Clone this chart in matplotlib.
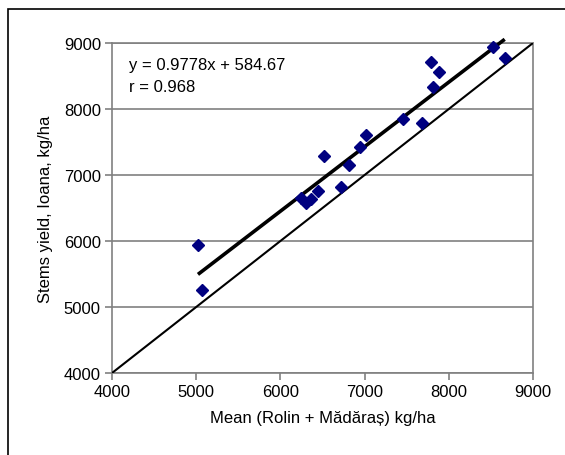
import numpy as np
import matplotlib
matplotlib.use('Agg')
import matplotlib.pyplot as plt
from matplotlib.patches import Rectangle

plt.rcParams['font.family'] = ['Liberation Sans', 'DejaVu Sans']

# mean yield (Rolin + Madaras) vs Ioana, kg/ha
mean_rm = [5021, 5073, 6245, 6305, 6365, 6443, 6514, 6720, 6815,
           6949, 7013, 7460, 7686, 7785, 7887, 7816, 8529, 8664]
ioana = [5934, 5263, 6650, 6575, 6630, 6753, 7290, 6812, 7155,
         7420, 7600, 7845, 7786, 8718, 8565, 8326, 8942, 8766]

slope = 0.9778
intercept = 584.67
r_val = 0.968

x = np.array(mean_rm)
y = np.array(ioana)

fig = plt.figure(figsize=(5.65, 4.56), dpi=100)
ax = fig.add_axes([112 / 565, 1 - 374 / 456, 421 / 565, 330 / 456])

ax.set_xlim(4000, 9000)
ax.set_ylim(4000, 9000)
ax.set_xticks(np.arange(4000, 9001, 1000))
ax.set_yticks(np.arange(4000, 9001, 1000))

ax.yaxis.grid(True, color='#808080', linewidth=1.2)
ax.set_axisbelow(True)
for s in ax.spines.values():
    s.set_color('#808080')
    s.set_linewidth(1.2)
ax.tick_params(direction='out', length=5, width=1.2, color='#808080',
               labelsize=12, pad=3)

# 1:1 line
ax.plot([4000, 9000], [4000, 9000], color='black', linewidth=1.5, zorder=3)

# trendline over data range
xt = np.array([x.min(), x.max()])
ax.plot(xt, slope * xt + intercept, color='black', linewidth=2.6,
        zorder=3, clip_on=False, solid_capstyle='butt')

ax.plot(x, y, linestyle='none', marker='D', markersize=6,
        color='#000080', zorder=4, clip_on=False)

ax.text(4200, 8670, 'y = 0.9778x + 584.67', fontsize=12,
        va='center', ha='left')
ax.text(4200, 8340, 'r = {}'.format(r_val), fontsize=12,
        va='center', ha='left')

ax.set_xlabel('Mean (Rolin + Mădăraș) kg/ha', fontsize=12, labelpad=8)
ax.set_ylabel('Stems yield, Ioana, kg/ha', fontsize=12, labelpad=8)

fig.patches.append(Rectangle((8 / 565, -0.1), 1.2, 1.1 - 9.5 / 456,
                             transform=fig.transFigure, fill=False,
                             edgecolor='black', linewidth=1.2))

fig.savefig('out.png', dpi=100)
